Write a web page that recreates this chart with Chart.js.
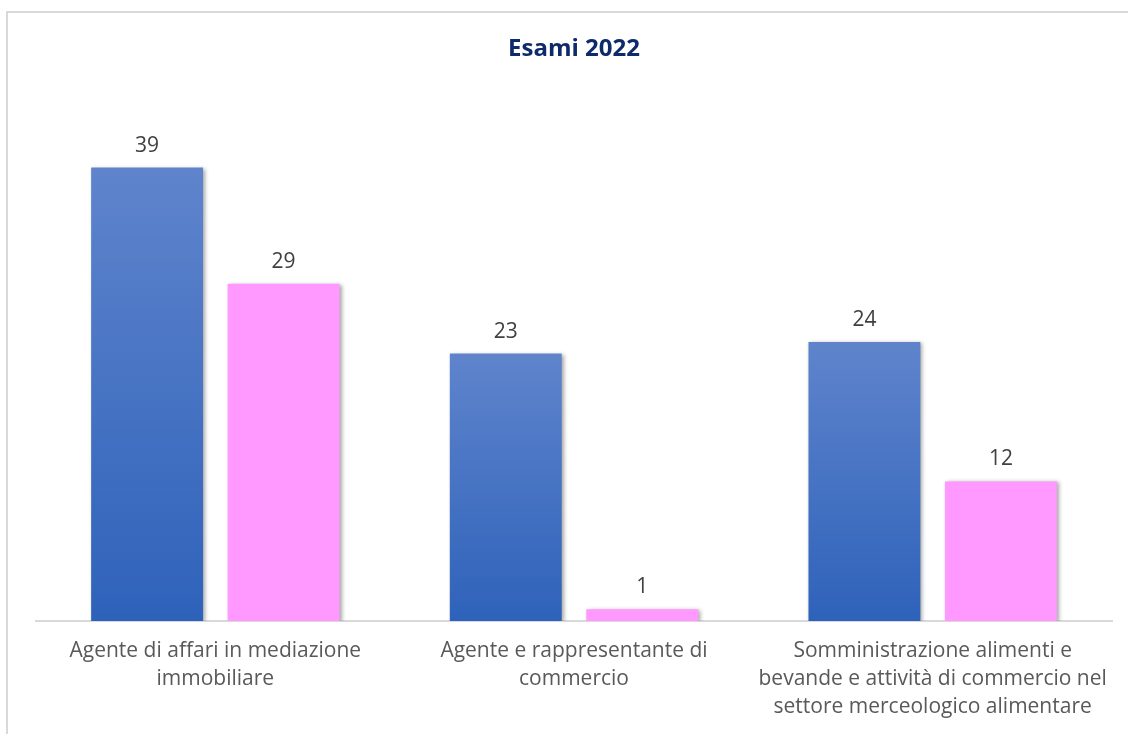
<!DOCTYPE html>
<html>
<head>
<meta charset="utf-8">
<script src="https://cdn.jsdelivr.net/npm/chart.js@4"></script>
<style>
  html, body { margin: 0; padding: 0; background: #fff; overflow: hidden; }
  #frame { position: absolute; left: 6px; top: 11px; width: 1140px; height: 760px; border: 2px solid #d9d9d9; box-sizing: border-box; }
  #wrap { position: absolute; left: 0; top: 0; width: 1128px; height: 734px; }
</style>
</head>
<body>
<div id="frame"></div>
<div id="wrap"><canvas id="chart"></canvas></div>
<script>
const categories = [
    ['Agente di affari in mediazione', 'immobiliare'],
    ['Agente e rappresentante di', 'commercio'],
    ['Somministrazione alimenti e', 'bevande e attività di commercio nel', 'settore merceologico alimentare']
];
const seriesBlue = [39, 23, 24];
const seriesPink = [29, 1, 12];

const ctx = document.querySelector('#chart').getContext('2d');

const blueGradient = (c) => {
    const chart = c.chart;
    const y = chart.scales.y;
    if (!y || c.raw === undefined) return '#4472c4';
    const top = y.getPixelForValue(c.raw);
    const bottom = y.getPixelForValue(0);
    if (!isFinite(top) || !isFinite(bottom) || top === bottom) return '#4472c4';
    const g = chart.ctx.createLinearGradient(0, top, 0, bottom);
    g.addColorStop(0, '#5f84cc');
    g.addColorStop(1, '#2e62ba');
    return g;
};

// soft shadow behind the bars
const barShadow = {
    id: 'barShadow',
    beforeDatasetsDraw(chart) {
        const c = chart.ctx;
        c.save();
        c.shadowColor = 'rgba(0,0,0,0.35)';
        c.shadowBlur = 4;
        c.shadowOffsetX = 2;
        c.shadowOffsetY = 1;
    },
    afterDatasetsDraw(chart) {
        chart.ctx.restore();
    }
};

// value labels above the bars
const valueLabels = {
    id: 'valueLabels',
    afterDraw(chart) {
        const c = chart.ctx;
        c.save();
        c.font = '21px "Open Sans"';
        c.fillStyle = '#404040';
        c.textAlign = 'center';
        c.textBaseline = 'alphabetic';
        chart.data.datasets.forEach((ds, i) => {
            chart.getDatasetMeta(i).data.forEach((bar, j) => {
                c.fillText(ds.data[j], bar.x, bar.y - 16);
            });
        });
        c.restore();
    }
};

new Chart(ctx, {
    type: 'bar',
    data: {
        labels: categories,
        datasets: [
            { label: 'A', data: seriesBlue, backgroundColor: blueGradient },
            { label: 'B', data: seriesPink, backgroundColor: '#ff99ff' }
        ]
    },
    options: {
        responsive: true,
        maintainAspectRatio: false,
        animation: false,
        datasets: { bar: { categoryPercentage: 0.761, barPercentage: 0.82 } },
        layout: { padding: { left: 36, right: 16, top: 0, bottom: 0 } },
        plugins: {
            legend: { display: false },
            tooltip: { enabled: false },
            title: {
                display: true,
                text: 'Esami 2022',
                color: '#0e2a6b',
                font: { family: '"Open Sans"', size: 24, weight: 'bold', lineHeight: 1.2 },
                padding: { top: 35, bottom: 34 }
            }
        },
        scales: {
            x: {
                grid: { display: false, drawTicks: false },
                border: { display: true, color: '#d9d9d9', width: 2 },
                ticks: {
                    color: '#595959',
                    font: { family: '"Open Sans"', size: 21, lineHeight: 1.33 },
                    padding: 16,
                    maxRotation: 0,
                    autoSkip: false
                },
                afterFit: (scale) => { scale.height = 113; }
            },
            y: {
                display: false,
                min: 0,
                max: 45
            }
        }
    },
    plugins: [barShadow, valueLabels]
});
</script>
</body>
</html>
